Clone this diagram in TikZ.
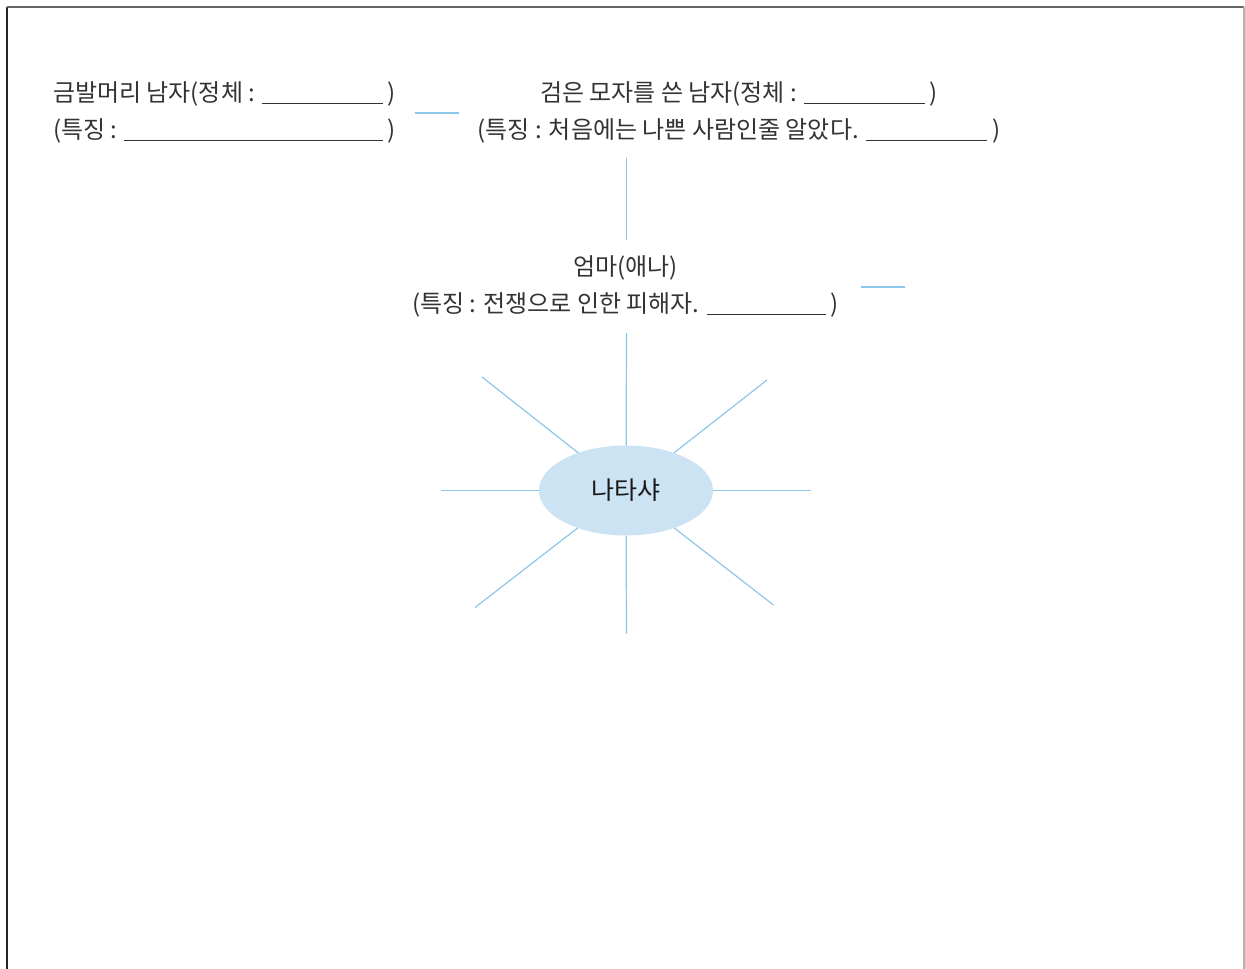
\documentclass[tikz,border=0pt]{standalone}
\usepackage{fontspec}
\usetikzlibrary{shapes.geometric}
\setmainfont{Noto Sans CJK KR}
\definecolor{txt}{HTML}{333333}
\definecolor{ray}{HTML}{8DC6EB}
\definecolor{bub}{HTML}{CCE3F3}
\newcommand{\fillblank}{\leaders\hrule height -2.4pt depth 3.4pt\hfill}
\newcommand{\lineto}[2]{\hbox to #1pt{#2}}
\begin{document}
\begin{tikzpicture}[x=1pt,y=-1pt,
  every node/.style={inner sep=0pt,outer sep=0pt},
  lbl/.style={text=txt,font=\fontsize{24}{28}\selectfont},
  rayline/.style={draw=ray,line width=1.2pt},
  bubble/.style={ellipse,fill=bub,minimum width=174pt,minimum height=90pt,
    text=black!90,font=\fontsize{25}{29}\selectfont}]
\useasboundingbox (0,0) rectangle (1245,969);
\fill[white] (0,0) rectangle (1245,969);
% frame
\draw[line width=1.8pt, color=black!85] (7,969) -- (7,7);
\draw[line width=1.8pt, color=black!60] (7,7) -- (1243.5,7);
\draw[line width=1.2pt, color=black!30] (1244,7) -- (1244,969);

% left block
\node[lbl,anchor=base west] (b1) at (53,101) {\lineto{343}{금발머리 남자(정체 : \fillblank\ )}};
\node[lbl,anchor=base west] (b2) at (53,138) {\lineto{343}{(특징 : \fillblank\ )}};

% middle block
\node[lbl,anchor=base] (h1) at (739,101) {\lineto{398}{검은 모자를 쓴 남자(정체 : \fillblank\ )}};
\node[lbl,anchor=base] (h2) at (739,138) {\lineto{523}{(특징 : 처음에는 나쁜 사람인줄 알았다. \fillblank\ )}};

% mother
\node[lbl,anchor=base] (m1) at (625.5,275) {엄마(애나)};
\node[lbl,anchor=base] (m2) at (625.5,312) {\lineto{427}{(특징 : 전쟁으로 인한 피해자. \fillblank\ )}};

% free dashes
\coordinate (d1a) at (415,113); \coordinate (d1b) at (459,113);
\coordinate (d2a) at (861,287); \coordinate (d2b) at (905,287);
\coordinate (v1a) at (626.5,158); \coordinate (v1b) at (626.5,240);
\draw[rayline] (d1a) -- (d1b);
\draw[rayline] (d2a) -- (d2b);
\draw[rayline] (v1a) -- (v1b);

% central bubble and rays
\node[bubble] (nat) at (626,490.5) {나타샤};
\coordinate (rN) at (626.5,333);
\coordinate (rS) at (626.5,633.5);
\coordinate (rW) at (441,490.5);
\coordinate (rE) at (811,490.5);
\coordinate (rNW) at (482,377);
\coordinate (rNE) at (767,380);
\coordinate (rSW) at (475,607.5);
\coordinate (rSE) at (773.5,605);
\foreach \c in {rN,rS,rW,rE,rNW,rNE,rSW,rSE}
  \draw[rayline] (nat) -- (\c);
\end{tikzpicture}
\end{document}
